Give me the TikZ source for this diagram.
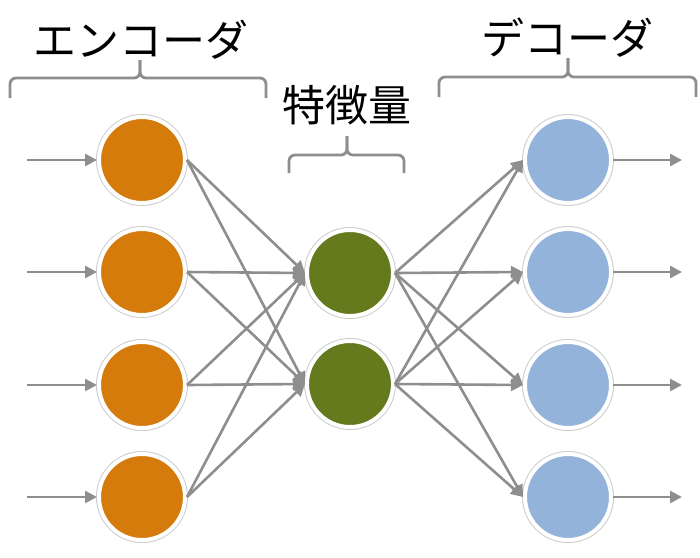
\documentclass[tikz,border=0pt]{standalone}
\usepackage{fontspec}
\newfontfamily\jpfont{Noto Sans CJK JP}
\usepackage{xcolor}
\usetikzlibrary{arrows.meta}
\definecolor{encfill}{HTML}{D57B0C}
\definecolor{midfill}{HTML}{647A1C}
\definecolor{decfill}{HTML}{93B3DA}
\definecolor{wire}{HTML}{8E8E8E}
\definecolor{rim}{HTML}{CDCDCD}
\tikzset{
  unit/.style={circle,inner sep=0pt,minimum size=86pt,draw=white,line width=4pt,
               preaction={draw=rim,line width=6pt}},
  encunit/.style={unit,fill=encfill},
  midunit/.style={unit,fill=midfill},
  decunit/.style={unit,fill=decfill},
  wirearr/.style={-{Triangle[length=12pt,width=12pt]},line width=2.6pt,color=wire},
  bracket/.style={draw=wire,line width=2.8pt,rounded corners=6pt},
  title/.style={font=\jpfont\fontsize{43}{50}\selectfont,inner sep=0pt}
}

\begin{document}
\begin{tikzpicture}[x=1pt,y=-1pt]
  \useasboundingbox (0,0) rectangle (700,557);

  % layers
  \foreach \i/\y in {1/160,2/272,3/385,4/497} {
    \node[encunit] (e\i) at (142,\y) {};
    \node[decunit] (d\i) at (568,\y) {};
    \coordinate (in\i) at (27,\y);
    \coordinate (out\i) at (682,\y);
  }
  \node[midunit] (m1) at (350,273) {};
  \node[midunit] (m2) at (350,384) {};

  % connections
  \foreach \i in {1,...,4} {
    \draw[wirearr] (in\i) -- (e\i.west);
    \draw[wirearr] (d\i.east) -- (out\i);
    \foreach \j in {1,2} {
      \draw[wirearr] (e\i.east) -- (m\j.west);
      \draw[wirearr] (m\j.east) -- (d\i.west);
    }
  }

  % brackets and titles
  \draw[bracket] (10,98) -- (10,78) -- (140,78) -- (140,60);
  \draw[bracket] (266,98) -- (266,78) -- (140,78) -- (140,60);
  \node[title] (enctitle) at (141,40) {エンコーダ};

  \draw[bracket] (289,173) -- (289,155) -- (347,155) -- (347,136);
  \draw[bracket] (404,173) -- (404,155) -- (347,155) -- (347,136);
  \node[title] (midtitle) at (347,105) {特徴量};

  \draw[bracket] (439,97) -- (439,77) -- (568,77) -- (568,58);
  \draw[bracket] (696,97) -- (696,77) -- (568,77) -- (568,58);
  \node[title] (dectitle) at (567,38) {デコーダ};
\end{tikzpicture}
\end{document}
